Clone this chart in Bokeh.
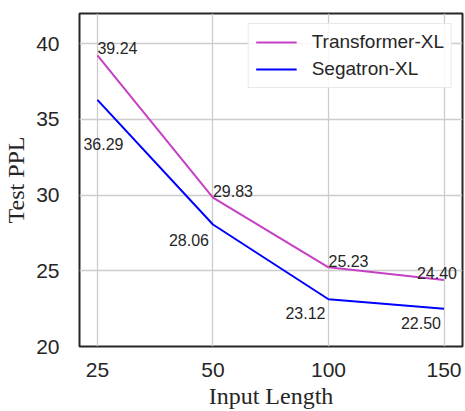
from bokeh.plotting import figure
from bokeh.models import Range1d, FixedTicker, ColumnDataSource, Legend, LegendItem
from bokeh.core.properties import value
from bokeh.embed import file_html
from bokeh.resources import INLINE

# ---- data ----
input_lengths = ["25", "50", "100", "150"]
transformer_xl = [39.24, 29.83, 25.23, 24.40]
segatron_xl = [36.29, 28.06, 23.12, 22.50]
y_ticks = [20, 25, 30, 35, 40]

# ---- styling ----
MAGENTA = "#c640c6"
BLUE = "#0000ff"
TEXT = "#262626"
SANS = "Liberation Sans"
SERIF = "Liberation Serif"

xs = list(range(len(input_lengths)))

p = figure(width=465, height=411, output_backend="svg", toolbar_location=None,
           x_range=Range1d(-0.155, 3.16), y_range=Range1d(20, 42),
           min_border_left=77, min_border_right=3, min_border_top=13, min_border_bottom=61)

p.background_fill_color = "white"
p.border_fill_color = "white"
p.outline_line_color = TEXT
p.outline_line_width = 2

p.xaxis.ticker = FixedTicker(ticks=xs)
p.xaxis.major_label_overrides = {i: lab for i, lab in enumerate(input_lengths)}
p.yaxis.ticker = FixedTicker(ticks=y_ticks)

for ax in (p.xaxis[0], p.yaxis[0]):
    ax.axis_line_color = None
    ax.major_tick_line_color = None
    ax.minor_tick_line_color = None
    ax.major_label_text_font = SANS
    ax.major_label_text_font_size = "21px"
    ax.major_label_text_color = TEXT
    ax.axis_label_text_font = SERIF
    ax.axis_label_text_font_size = "24px"
    ax.axis_label_text_font_style = "normal"
    ax.axis_label_text_color = TEXT

p.xaxis.axis_label = "Input Length"
p.yaxis.axis_label = "Test PPL"
p.xaxis.major_label_standoff = 10
p.yaxis.major_label_standoff = 14
p.xaxis.axis_label_standoff = 3
p.yaxis.axis_label_standoff = 4

p.xgrid.ticker = FixedTicker(ticks=xs)
p.ygrid.ticker = FixedTicker(ticks=y_ticks)
for g in (p.xgrid[0], p.ygrid[0]):
    g.grid_line_color = "#cccccc"
    g.grid_line_width = 1.3

src = ColumnDataSource(dict(x=xs, t=transformer_xl, s=segatron_xl))

r_t = p.line("x", "t", source=src, line_color=MAGENTA, line_width=2)
r_s = p.line("x", "s", source=src, line_color=BLUE, line_width=2)

# value annotations (screen-pixel offsets are styling)
src_t = ColumnDataSource(dict(x=xs, y=transformer_xl, lab=["%.2f" % v for v in transformer_xl],
                              dx=[0, 0, 0, 13], dy=[-7, -7, -6.5, -7],
                              al=["left", "left", "left", "right"]))
src_s = ColumnDataSource(dict(x=xs, y=segatron_xl, lab=["%.2f" % v for v in segatron_xl],
                              dx=[-14, -4, -3, -3], dy=[44, 15, 14, 14.5],
                              al=["left", "right", "right", "right"]))
for s in (src_t, src_s):
    p.text("x", "y", text="lab", source=s, x_offset="dx", y_offset="dy",
           text_align="al", text_baseline="alphabetic",
           text_font=value(SANS), text_font_size="16px", text_color=TEXT)

legend = Legend(items=[LegendItem(label="Transformer-XL", renderers=[r_t]),
                       LegendItem(label="Segatron-XL", renderers=[r_s])],
                location="top_right")
legend.margin = 10
legend.padding = 7
legend.spacing = 5
legend.glyph_width = 41
legend.glyph_height = 22
legend.label_height = 22
legend.label_standoff = 15
legend.label_text_font = SANS
legend.label_text_font_size = "19px"
legend.label_text_color = TEXT
legend.border_line_color = "#d4d4d4"
legend.border_line_width = 1
legend.background_fill_color = "white"
legend.background_fill_alpha = 0.85
p.add_layout(legend)

open("out.html", "w").write(file_html(p, INLINE))
